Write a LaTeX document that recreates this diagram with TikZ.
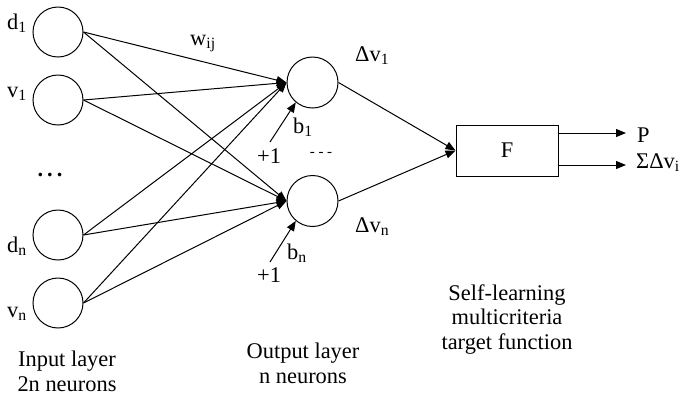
\documentclass[tikz,border=0pt]{standalone}
\usepackage{fontspec}
\setmainfont{Liberation Serif}
\usetikzlibrary{arrows.meta}
\begin{document}
\begin{tikzpicture}[x=1bp,y=-1bp,
  font=\fontsize{22.5}{24.5}\selectfont,
  neuron/.style={draw, circle, line width=1bp, minimum size=50bp, inner sep=0pt},
  outneuron/.style={neuron, minimum size=51bp},
  fbox/.style={draw, line width=1bp, minimum width=102bp, minimum height=51bp, inner sep=0pt},
  wire/.style={line width=1bp},
  arr/.style={wire, -{Triangle[length=10bp,width=8bp]}},
  lbl/.style={inner sep=0pt, anchor=base west},
  caption/.style={inner sep=0pt, align=center, anchor=base},
]
\useasboundingbox (0,0) rectangle (679,396);

% input layer
\node[neuron] (d1) at (58,32) {};
\node[neuron] (v1) at (58,100) {};
\node[neuron] (dn) at (58,235) {};
\node[neuron] (vn) at (58,303) {};
\node[lbl] (ld1) at (7,29) {d\textsubscript{1}};
\node[lbl] (lv1) at (7,97) {v\textsubscript{1}};
\node[lbl] (ldn) at (7,252) {d\textsubscript{n}};
\node[lbl] (lvn) at (7,317) {v\textsubscript{n}};
\node[inner sep=0pt] (idots) at (50,175) {\textbf{.\kern4bp.\kern4bp.}};

% output layer
\node[outneuron] (o1) at (312.5,82.5) {};
\node[outneuron] (on) at (312.5,201) {};
\node[inner sep=0pt, font=\fontsize{15}{18}\selectfont] (odots) at (321,154) {- - -};

% target function block
\node[fbox] (F) at (507,150.5) {F};

% weights
\foreach \s in {d1,v1,dn,vn} {
  \draw[arr] (\s.east) -- (o1.west);
  \draw[arr] (\s.east) -- (on.west);
}
\node[lbl] (lw) at (190,45) {w\textsubscript{ij}};

% biases
\coordinate (b1s) at (270,142);
\coordinate (bns) at (270,262);
\draw[arr] (b1s) -- (o1.230);
\draw[arr] (bns) -- (on.230);
\node[lbl] (p1a) at (257,163) {+1};
\node[lbl] (p1b) at (257,282) {+1};
\node[lbl] (lb1) at (293,133) {b\textsubscript{1}};
\node[lbl] (lbn) at (287,259) {b\textsubscript{n}};

% outputs to F
\draw[arr] (o1.east) -- (F.west);
\draw[arr] (on.east) -- (F.west);
\node[lbl] (ldv1) at (355,61) {Δv\textsubscript{1}};
\node[lbl] (ldvn) at (355,232) {Δv\textsubscript{n}};

% results of F
\coordinate (pP) at (626,133);
\coordinate (pS) at (626,165);
\draw[arr] (F.east |- pP) -- (pP);
\draw[arr] (F.east |- pS) -- (pS);
\node[lbl] (lP) at (637,142) {P};
\node[lbl] (lS) at (636,168) {ΣΔv\textsubscript{i}};

% captions (anchored at the baseline of their last line)
\node[caption] (cin) at (67,391) {Input layer\\2n neurons};
\node[caption] (cout) at (303,383) {Output layer\\n neurons};
\node[caption] (cf) at (507,349) {Self-learning\\multicriteria\\target function};
\end{tikzpicture}
\end{document}
